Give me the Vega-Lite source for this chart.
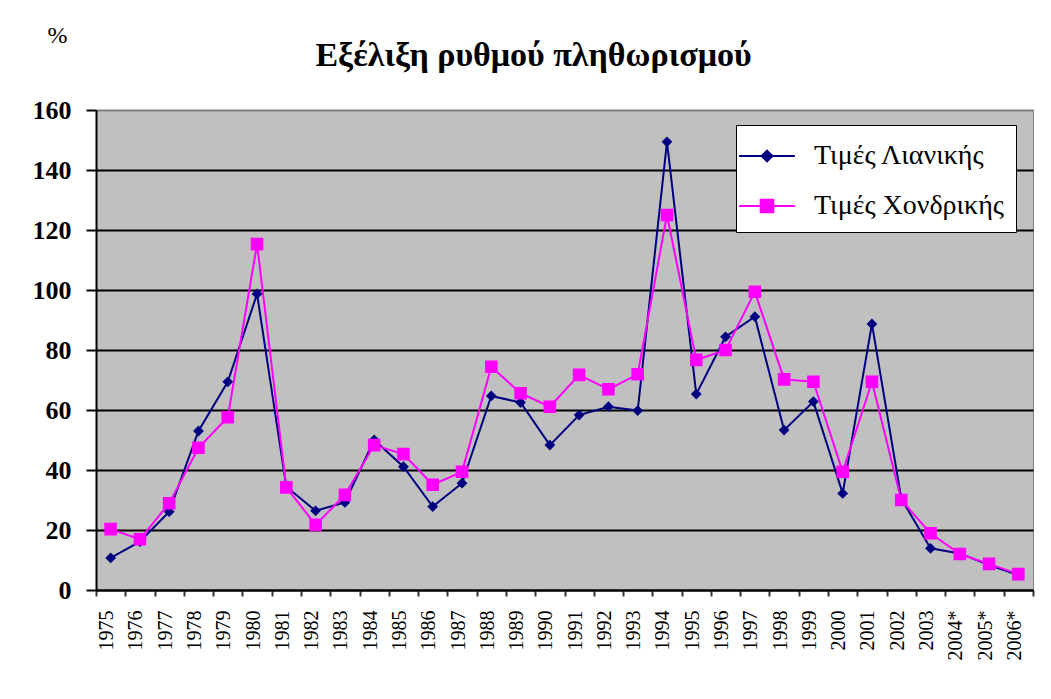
{
  "$schema": "https://vega.github.io/schema/vega-lite/v6.json",
  "width": 937,
  "height": 480,
  "autosize": "none",
  "padding": {"left": 96, "top": 110, "right": 18, "bottom": 109},
  "background": "white",
  "title": {
    "text": "Εξέλιξη ρυθμού πληθωρισμού",
    "font": "Liberation Serif",
    "fontSize": 34,
    "fontWeight": "bold",
    "color": "black",
    "anchor": "middle",
    "frame": "group",
    "baseline": "alphabetic",
    "dx": -31,
    "offset": -77
  },
  "config": {
    "view": {"fill": "#C0C0C0", "stroke": "#808080", "strokeWidth": 1}
  },
  "data": {
    "values": [
      {"year": "1975", "series": "Τιμές Λιανικής", "value": 10.7},
      {"year": "1976", "series": "Τιμές Λιανικής", "value": 16.1},
      {"year": "1977", "series": "Τιμές Λιανικής", "value": 26.1},
      {"year": "1978", "series": "Τιμές Λιανικής", "value": 53},
      {"year": "1979", "series": "Τιμές Λιανικής", "value": 69.4},
      {"year": "1980", "series": "Τιμές Λιανικής", "value": 98.7},
      {"year": "1981", "series": "Τιμές Λιανικής", "value": 34.4},
      {"year": "1982", "series": "Τιμές Λιανικής", "value": 26.4},
      {"year": "1983", "series": "Τιμές Λιανικής", "value": 29.2},
      {"year": "1984", "series": "Τιμές Λιανικής", "value": 50},
      {"year": "1985", "series": "Τιμές Λιανικής", "value": 41.1},
      {"year": "1986", "series": "Τιμές Λιανικής", "value": 27.8},
      {"year": "1987", "series": "Τιμές Λιανικής", "value": 35.6},
      {"year": "1988", "series": "Τιμές Λιανικής", "value": 64.7},
      {"year": "1989", "series": "Τιμές Λιανικής", "value": 62.5},
      {"year": "1990", "series": "Τιμές Λιανικής", "value": 48.3},
      {"year": "1991", "series": "Τιμές Λιανικής", "value": 58.3},
      {"year": "1992", "series": "Τιμές Λιανικής", "value": 61.1},
      {"year": "1993", "series": "Τιμές Λιανικής", "value": 59.8},
      {"year": "1994", "series": "Τιμές Λιανικής", "value": 149.4},
      {"year": "1995", "series": "Τιμές Λιανικής", "value": 65.3},
      {"year": "1996", "series": "Τιμές Λιανικής", "value": 84.4},
      {"year": "1997", "series": "Τιμές Λιανικής", "value": 91.1},
      {"year": "1998", "series": "Τιμές Λιανικής", "value": 53.3},
      {"year": "1999", "series": "Τιμές Λιανικής", "value": 62.8},
      {"year": "2000", "series": "Τιμές Λιανικής", "value": 32.2},
      {"year": "2001", "series": "Τιμές Λιανικής", "value": 88.7},
      {"year": "2002", "series": "Τιμές Λιανικής", "value": 30.5},
      {"year": "2003", "series": "Τιμές Λιανικής", "value": 13.9},
      {"year": "2004*", "series": "Τιμές Λιανικής", "value": 12.2},
      {"year": "2005*", "series": "Τιμές Λιανικής", "value": 8.3},
      {"year": "2006*", "series": "Τιμές Λιανικής", "value": 5},
      {"year": "1975", "series": "Τιμές Χονδρικής", "value": 20.3},
      {"year": "1976", "series": "Τιμές Χονδρικής", "value": 16.9},
      {"year": "1977", "series": "Τιμές Χονδρικής", "value": 28.9},
      {"year": "1978", "series": "Τιμές Χονδρικής", "value": 47.4},
      {"year": "1979", "series": "Τιμές Χονδρικής", "value": 57.6},
      {"year": "1980", "series": "Τιμές Χονδρικής", "value": 115.3},
      {"year": "1981", "series": "Τιμές Χονδρικής", "value": 34.2},
      {"year": "1982", "series": "Τιμές Χονδρικής", "value": 21.7},
      {"year": "1983", "series": "Τιμές Χονδρικής", "value": 31.7},
      {"year": "1984", "series": "Τιμές Χονδρικής", "value": 48.3},
      {"year": "1985", "series": "Τιμές Χονδρικής", "value": 45.3},
      {"year": "1986", "series": "Τιμές Χονδρικής", "value": 35.1},
      {"year": "1987", "series": "Τιμές Χονδρικής", "value": 39.4},
      {"year": "1988", "series": "Τιμές Χονδρικής", "value": 74.4},
      {"year": "1989", "series": "Τιμές Χονδρικής", "value": 65.6},
      {"year": "1990", "series": "Τιμές Χονδρικής", "value": 61.1},
      {"year": "1991", "series": "Τιμές Χονδρικής", "value": 71.7},
      {"year": "1992", "series": "Τιμές Χονδρικής", "value": 66.9},
      {"year": "1993", "series": "Τιμές Χονδρικής", "value": 71.9},
      {"year": "1994", "series": "Τιμές Χονδρικής", "value": 125},
      {"year": "1995", "series": "Τιμές Χονδρικής", "value": 76.7},
      {"year": "1996", "series": "Τιμές Χονδρικής", "value": 80},
      {"year": "1997", "series": "Τιμές Χονδρικής", "value": 99.4},
      {"year": "1998", "series": "Τιμές Χονδρικής", "value": 70.2},
      {"year": "1999", "series": "Τιμές Χονδρικής", "value": 69.4},
      {"year": "2000", "series": "Τιμές Χονδρικής", "value": 39.4},
      {"year": "2001", "series": "Τιμές Χονδρικής", "value": 69.4},
      {"year": "2002", "series": "Τιμές Χονδρικής", "value": 30},
      {"year": "2003", "series": "Τιμές Χονδρικής", "value": 18.9},
      {"year": "2004*", "series": "Τιμές Χονδρικής", "value": 12},
      {"year": "2005*", "series": "Τιμές Χονδρικής", "value": 8.7},
      {"year": "2006*", "series": "Τιμές Χονδρικής", "value": 5.3}
    ]
  },
  "encoding": {
    "x": {
      "field": "year",
      "type": "ordinal",
      "sort": null,
      "scale": {"type": "band", "paddingInner": 0, "paddingOuter": 0},
      "axis": {
        "title": null,
        "tickBand": "extent",
        "tickSize": 6,
        "tickWidth": 2,
        "tickColor": "#333333",
        "domainColor": "black",
        "domainWidth": 2,
        "labelAngle": 270,
        "labelAlign": "right",
        "labelBaseline": "middle",
        "labelFont": "Liberation Serif",
        "labelFontSize": 20,
        "labelColor": "black",
        "labelPadding": 14,
        "labelOffset": -4,
        "labelOverlap": false,
        "labelBound": false,
        "labelFlush": false,
        "grid": false
      }
    },
    "y": {
      "field": "value",
      "type": "quantitative",
      "scale": {"domain": [0, 160], "nice": false},
      "axis": {
        "values": [0, 20, 40, 60, 80, 100, 120, 140, 160],
        "domainColor": "black",
        "domainWidth": 2,
        "tickColor": "black",
        "tickWidth": 2,
        "tickSize": 10,
        "labelFont": "Liberation Serif",
        "labelFontSize": 26,
        "labelFontWeight": "bold",
        "labelColor": "black",
        "labelPadding": 15,
        "grid": true,
        "gridColor": {"condition": {"test": "datum.value === 160", "value": "#808080"}, "value": "black"},
        "gridWidth": 2,
        "gridOpacity": 1,
        "title": "%",
        "titleAngle": 0,
        "titleX": -39,
        "titleY": -75,
        "titleAlign": "center",
        "titleBaseline": "middle",
        "titleFont": "Liberation Serif",
        "titleFontSize": 24,
        "titleFontWeight": "normal",
        "titleColor": "black"
      }
    },
    "color": {
      "field": "series",
      "type": "nominal",
      "sort": null,
      "scale": {"domain": ["Τιμές Λιανικής", "Τιμές Χονδρικής"], "range": ["#000080", "#FF00FF"]},
      "legend": {
        "title": null,
        "orient": "none",
        "legendX": 640,
        "legendY": 15,
        "fillColor": "white",
        "strokeColor": "black",
        "padding": 12,
        "rowPadding": 17,
        "labelFont": "Liberation Serif",
        "labelFontSize": 28,
        "labelColor": "black",
        "labelOffset": 28,
        "labelLimit": 400,
        "symbolSize": 1296,
        "symbolStrokeWidth": 2
      }
    }
  },
  "layer": [
    {
      "mark": {"type": "line", "strokeWidth": 2},
      "encoding": {"detail": {"field": "series"}}
    },
    {
      "mark": {"type": "point", "filled": true, "opacity": 1, "size": 1296},
      "encoding": {
        "shape": {
          "field": "series",
          "type": "nominal",
          "scale": {
            "domain": ["Τιμές Λιανικής", "Τιμές Χονδρικής"],
            "range": [
              "M-1.55,0L1.55,0M0,-0.3L0.3,0L0,0.3L-0.3,0Z",
              "M-1.55,0L1.55,0M-0.35,-0.35L0.35,-0.35L0.35,0.35L-0.35,0.35Z"
            ]
          },
          "legend": null
        }
      }
    }
  ]
}
